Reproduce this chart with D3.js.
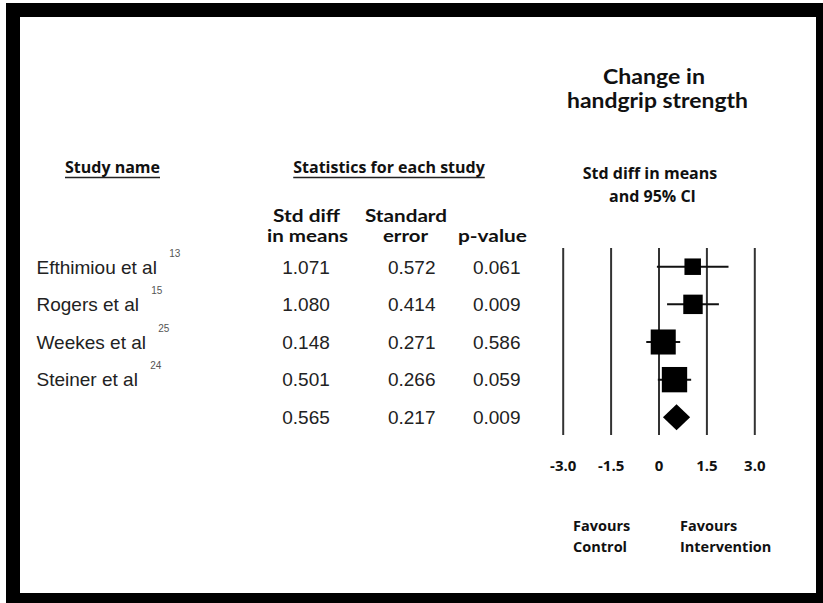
<!DOCTYPE html>
<html>
<head>
<meta charset="utf-8">
<script src="https://cdn.jsdelivr.net/npm/d3@7"></script>
<style>
  html, body { margin: 0; padding: 0; background: #fff; }
  svg { display: block; }
</style>
</head>
<body>
<svg id="chart" width="823" height="603"></svg>
<script>
// Forest plot: change in handgrip strength
const studies = ["Efthimiou et al", "Rogers et al", "Weekes et al", "Steiner et al"];
const refs = ["13", "15", "25", "24"];
const stdDiff = [1.071, 1.080, 0.148, 0.501];
const stdErr = [0.572, 0.414, 0.271, 0.266];
const pValues = ["0.061", "0.009", "0.586", "0.059"];
const pooled = { stdDiff: 0.565, stdErr: 0.217, p: "0.009" };
const tickValues = [-3, -1.5, 0, 1.5, 3];
const tickLabels = ["-3.0", "-1.5", "0", "1.5", "3.0"];

const svg = d3.select("#chart");
const headFont = "'Open Sans', Lato, sans-serif";
const tightFont = "Lato, 'Open Sans', sans-serif";
const bodyFont = "'Liberation Sans', Arial, sans-serif";

// frame
svg.append("rect").attr("x", 0).attr("y", 0).attr("width", 823).attr("height", 603).attr("fill", "#fff");
svg.append("rect").attr("x", 6).attr("y", 3).attr("width", 817).attr("height", 600).attr("fill", "#000");
svg.append("rect").attr("x", 20).attr("y", 17).attr("width", 796).attr("height", 576).attr("fill", "#fff");

// scales
const x = d3.scaleLinear().domain([-3, 3]).range([562.7, 754.3]);
const y = d3.scaleLinear().domain([0, 4]).range([266.7, 417.3]);
const boxSize = d3.scaleLinear().domain([0, 4]).range([8.8, 26.4]); // by 1/SE
const z = 1.96;

// multi-line bold label as one text element
function block(lines, size, anchor = "middle") {
  const t = svg.append("text").attr("text-anchor", anchor)
    .attr("font-family", headFont).attr("font-weight", 700).attr("font-size", size).attr("fill", "#111");
  lines.forEach(([label, lx, ly]) => t.append("tspan").attr("x", lx).attr("y", ly).text(label));
  return t;
}

// compact bold label widened to a set length (tightly stacked headings)
function tight(label, cx, by, size, len) {
  return svg.append("text").attr("x", cx).attr("y", by).attr("text-anchor", "middle")
    .attr("font-family", tightFont).attr("font-weight", 700).attr("font-size", size).attr("fill", "#111")
    .attr("textLength", len).attr("lengthAdjust", "spacingAndGlyphs").text(label);
}

// titles
tight("Change in", 654, 84, 20, 102);
tight("handgrip strength", 657.5, 108, 20, 181);
block([["Std diff in means", 650, 179], ["and 95% CI", 652.5, 202]], 16);

// underlined section headers
function underlined(label, cx) {
  const t = svg.append("text").attr("x", cx).attr("y", 173).attr("text-anchor", "middle")
    .attr("font-family", headFont).attr("font-weight", 700).attr("font-size", 16).attr("fill", "#111")
    .text(label);
  const w = t.node().getComputedTextLength();
  svg.append("line").attr("x1", cx - w / 2).attr("x2", cx + w / 2)
    .attr("y1", 177.5).attr("y2", 177.5).attr("stroke", "#222").attr("stroke-width", 1.3);
}
underlined("Study name", 112.5);
underlined("Statistics for each study", 389);

// column headers
const colX = [306, 411.7, 496.7];
tight("Std diff", 306.5, 221.7, 16.5, 67);
tight("in means", 307.5, 241.7, 16.5, 81);
tight("Standard", 406, 221.7, 16.5, 82);
tight("error", 405.5, 241.7, 16.5, 45);
tight("p-value", 492.5, 241.7, 16.5, 69);

// table rows
const rows = studies.map((s, i) => ({ name: s, ref: refs[i], d: stdDiff[i], se: stdErr[i], p: pValues[i] }));
const tableRows = rows.concat([{ name: "", ref: "", d: pooled.stdDiff, se: pooled.stdErr, p: pooled.p }]);

const names = svg.append("g").attr("font-family", bodyFont).attr("font-size", 19).attr("fill", "#222");
rows.forEach((r, i) => {
  const t = names.append("text").attr("x", 36.5).attr("y", y(i) + 6.8);
  t.append("tspan").text(r.name + " ");
  t.append("tspan").attr("dx", 7).attr("dy", -17).attr("font-size", 10).attr("fill", "#555").text(r.ref);
});

const vals = svg.append("g").attr("font-family", bodyFont).attr("font-size", 19)
  .attr("fill", "#222").attr("text-anchor", "middle");
tableRows.forEach((r, i) => {
  const cy = y(i) + 6.8;
  vals.append("text").attr("x", colX[0]).attr("y", cy).text(d3.format(".3f")(r.d));
  vals.append("text").attr("x", colX[1]).attr("y", cy).text(d3.format(".3f")(r.se));
  vals.append("text").attr("x", colX[2]).attr("y", cy).text(r.p);
});

// reference lines and tick labels
const axis = d3.axisBottom(x).tickValues(tickValues)
  .tickFormat((d, i) => tickLabels[i]).tickSizeInner(-(435 - 248)).tickSizeOuter(0).tickPadding(0);
const ax = svg.append("g").attr("transform", "translate(0,435)").call(axis);
ax.select(".domain").remove();
ax.selectAll(".tick line").attr("stroke", "#333").attr("stroke-width", 2);
ax.selectAll(".tick text").attr("y", 35.5).attr("dy", 0)
  .attr("font-family", headFont).attr("font-weight", 700).attr("font-size", 15).attr("fill", "#111");

// confidence intervals and boxes
const plot = svg.append("g");
rows.forEach((r, i) => {
  const lo = r.d - z * r.se, hi = r.d + z * r.se;
  plot.append("line").attr("x1", x(lo)).attr("x2", x(hi)).attr("y1", y(i)).attr("y2", y(i))
    .attr("stroke", "#111").attr("stroke-width", 2);
  const s = boxSize(1 / r.se);
  plot.append("rect").attr("x", x(r.d) - s / 2).attr("y", y(i) - s / 2)
    .attr("width", s).attr("height", s).attr("fill", "#000");
});

// pooled estimate diamond
const pLo = pooled.stdDiff - z * pooled.stdErr, pHi = pooled.stdDiff + z * pooled.stdErr;
const py = y(4);
plot.append("path")
  .attr("d", `M${x(pLo)},${py} L${x(pooled.stdDiff)},${py - 13} L${x(pHi)},${py} L${x(pooled.stdDiff)},${py + 13} Z`)
  .attr("fill", "#000");

// direction labels
block([["Favours", 573, 531], ["Control", 573, 552]], 14.5, "start");
block([["Favours", 680, 531], ["Intervention", 680, 552]], 14.5, "start");
</script>
</body>
</html>
